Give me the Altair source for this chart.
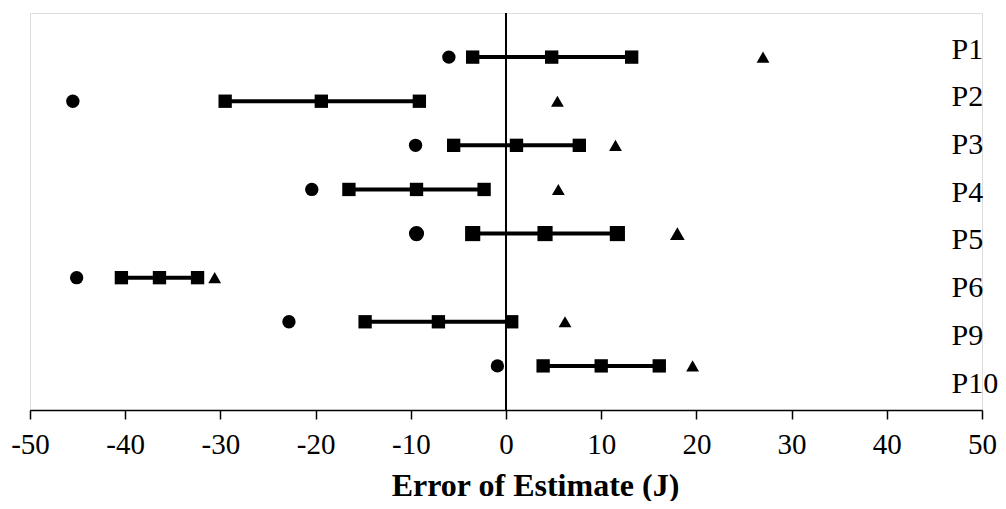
import altair as alt
import pandas as pd

# ---- data ----
rows = ["P1", "P2", "P3", "P4", "P5", "P6", "P9", "P10"]
lower = [-3.5, -29.5, -5.5, -16.5, -3.5, -40.4, -14.8, 3.9]
mean = [4.8, -19.4, 1.1, -9.4, 4.1, -36.4, -7.1, 10.0]
upper = [13.2, -9.1, 7.7, -2.3, 11.7, -32.4, 0.6, 16.1]
minimum = [-6.0, -45.5, -9.5, -20.4, -9.4, -45.1, -22.8, -0.9]
maximum = [27.0, 5.4, 11.5, 5.5, 18.0, -30.6, 6.2, 19.6]
x_ticks = [-50, -40, -30, -20, -10, 0, 10, 20, 30, 40, 50]
x_title = "Error of Estimate (J)"

df = pd.DataFrame({
    "row": rows, "lower": lower, "mean": mean, "upper": upper,
    "minimum": minimum, "maximum": maximum,
})

FONT = "Liberation Serif"
W, H = 952, 397

xscale = alt.Scale(domain=[-50, 50], nice=False, zero=False)
yscale = alt.Scale(type="point", domain=rows, padding=1)

x_axis = alt.Axis(
    values=x_ticks, title=x_title, grid=False,
    domainColor="black", domainWidth=1.5,
    tickColor="black", tickWidth=1.5, tickSize=9,
    labelExpr="datum.value + ''",
    labelFont=FONT, labelFontSize=29, labelColor="black",
    labelPadding=34, labelBaseline="alphabetic", labelOverlap=False, labelFlush=False,
    titleFont=FONT, titleFontSize=32, titleFontWeight="bold", titleColor="black",
    titleBaseline="alphabetic", titleAlign="center", titleX=505, titleY=85,
)

size_cond = alt.condition("datum.row == 'P5'", alt.value(230), alt.value(178))

base = alt.Chart(df)

zero_line = base.mark_rule(color="black", strokeWidth=1.5).encode(
    x=alt.XDatum(0, type="quantitative", scale=xscale)
)

ci = base.mark_rule(color="black", strokeWidth=4).encode(
    x=alt.X("lower:Q", scale=xscale, axis=x_axis),
    x2="upper:Q",
    y=alt.Y("row:N", scale=yscale, axis=None),
)

squares = base.transform_fold(["lower", "mean", "upper"], as_=["stat", "value"]).mark_point(
    shape="square", filled=True, opacity=1, color="black"
).encode(
    x=alt.X("value:Q", scale=xscale),
    y=alt.Y("row:N", scale=yscale, axis=None),
    size=size_cond,
)

circles = base.mark_point(shape="circle", filled=True, opacity=1, color="black").encode(
    x=alt.X("minimum:Q", scale=xscale),
    y=alt.Y("row:N", scale=yscale, axis=None),
    size=size_cond,
)

triangles = base.mark_point(shape="triangle-up", filled=True, opacity=1, color="black").encode(
    x=alt.X("maximum:Q", scale=xscale),
    y=alt.Y("row:N", scale=yscale, axis=None),
    size=alt.condition("datum.row == 'P5'", alt.value(215), alt.value(165)),
)

data_layer = alt.layer(zero_line, ci, squares, circles, triangles)

labels = base.mark_point(opacity=0).encode(
    y=alt.Y(
        "row:N",
        scale=alt.Scale(type="point", domain=rows, range=[36, 370], padding=0),
        axis=alt.Axis(
            orient="right", title=None, domain=False, ticks=False, tickSize=0,
            labelPadding=-31, labelAlign="left", labelBaseline="middle",
            labelFont=FONT, labelFontSize=30, labelColor="black",
        ),
    )
)

chart = alt.layer(data_layer, labels).resolve_scale(y="independent").properties(
    width=W, height=H,
    autosize="none",
    padding={"left": 22, "top": 5, "right": 16, "bottom": 91},
).configure_view(stroke=None).configure(font=FONT)

chart.save("out.html", embed_options={"renderer": "svg", "actions": False})
